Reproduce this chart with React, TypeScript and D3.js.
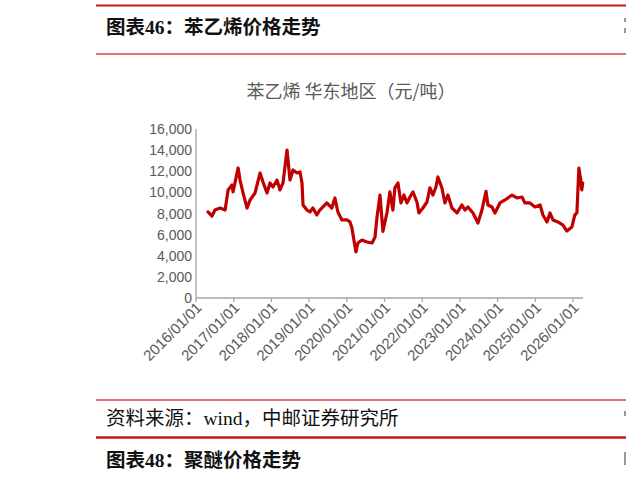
import * as d3 from "d3";

// 苯乙烯 华东地区 价格（元/吨），按图读取的近似值
const priceDates = [
  "2016-04-26", "2016-06-04", "2016-07-03", "2016-08-21", "2016-10-09", "2016-11-07",
  "2016-12-15", "2016-12-25", "2017-02-12", "2017-03-03", "2017-04-01", "2017-05-10",
  "2017-06-08", "2017-07-26", "2017-09-13", "2017-10-11", "2017-11-19", "2017-12-18",
  "2018-01-16", "2018-02-24", "2018-03-25", "2018-04-23", "2018-06-01", "2018-06-30",
  "2018-07-29", "2018-09-06", "2018-10-05", "2018-10-24", "2018-11-03", "2018-12-11",
  "2019-01-09", "2019-02-07", "2019-03-17", "2019-04-15", "2019-06-22", "2019-08-09",
  "2019-09-08", "2019-10-07", "2019-11-15", "2020-01-02", "2020-02-01", "2020-02-20",
  "2020-03-10", "2020-03-30", "2020-04-18", "2020-05-27", "2020-07-15", "2020-09-02",
  "2020-10-01", "2020-10-20", "2020-11-18", "2020-12-16", "2021-01-24", "2021-02-22",
  "2021-03-23", "2021-04-11", "2021-05-11", "2021-06-09", "2021-07-08", "2021-08-06",
  "2021-09-04", "2021-10-03", "2021-11-11", "2021-11-30", "2022-01-08", "2022-02-16",
  "2022-03-17", "2022-04-15", "2022-05-14", "2022-06-02", "2022-07-11", "2022-08-09",
  "2022-09-07", "2022-10-16", "2022-12-04", "2023-01-21", "2023-02-19", "2023-03-20",
  "2023-05-08", "2023-06-25", "2023-08-03", "2023-09-11", "2023-09-30", "2023-11-08",
  "2023-12-07", "2024-01-24", "2024-03-13", "2024-05-20", "2024-07-07", "2024-08-25",
  "2024-09-23", "2024-11-10", "2024-12-29", "2025-02-16", "2025-03-16", "2025-04-24",
  "2025-05-23", "2025-06-21", "2025-08-08", "2025-09-26", "2025-11-03", "2025-12-21",
  "2026-01-19", "2026-02-08", "2026-02-27", "2026-03-17", "2026-03-27", "2026-04-05",
];
const priceValues = [
  8150, 7760, 8330, 8520, 8330, 10230,
  10700, 10040, 12310, 11170, 9940, 8520,
  9280, 9940, 11840, 10980, 9940, 10890,
  10510, 11170, 10230, 10890, 14010, 11170,
  12120, 11840, 11930, 10890, 8810, 8330,
  8140, 8520, 7860, 8330, 9000, 8520,
  9470, 8140, 7390, 7390, 7200, 6630,
  5490, 4360, 5210, 5490, 5300, 5210,
  5780, 7670, 9750, 6300, 8050, 10040,
  8330, 10420, 10890, 9000, 9750, 9000,
  9560, 10040, 9090, 8050, 8520, 9090,
  10420, 9750, 10510, 11460, 10420, 9000,
  9750, 8520, 8050, 8810, 8330, 8620,
  8050, 7100, 8330, 10100, 8810, 8620,
  8050, 9000, 9280, 9750, 9470, 9560,
  9000, 9000, 8620, 8810, 7860, 7200,
  8050, 7390, 7200, 6910, 6340, 6720,
  7860, 8050, 12300, 11170, 10230, 10890,
];
const yTicks = [0, 2000, 4000, 6000, 8000, 10000, 12000, 14000, 16000];
const xTickYears = [2016, 2017, 2018, 2019, 2020, 2021, 2022, 2023, 2024, 2025, 2026];

const chartTitle = "苯乙烯 华东地区（元/吨）";
const headerTop = ["图表46：", "苯乙烯价格走势"];
const sourceText = "资料来源：wind，中邮证券研究所";
const headerBottom = ["图表48：", "聚醚价格走势"];

const RED = "#c9151e";
const THIN_RED = "#d9464d";
const LINE_RED = "#c00000";
const GRAY = "#595959";
const AXIS = "#a6a6a6";
const SERIF = "'Liberation Serif', 'Noto Sans CJK SC', serif";
const SANS = "'Liberation Sans', 'Noto Sans CJK SC', sans-serif";

export default function App() {
  const W = 626;
  const H = 480;
  const plot = { left: 196, right: 583, top: 129, bottom: 298 };

  const parse = d3.timeParse("%Y-%m-%d");
  const data = priceDates.map((d, i) => ({ date: parse(d)!, value: priceValues[i] }));

  const x = d3
    .scaleTime()
    .domain([new Date(2016, 0, 1), new Date(2026, 3, 8)])
    .range([plot.left, plot.right]);
  const y = d3.scaleLinear().domain([0, 16000]).range([plot.bottom, plot.top]);

  const line = d3
    .line<{ date: Date; value: number }>()
    .x((d) => x(d.date))
    .y((d) => y(d.value));

  const fmt = d3.format(",");

  return (
    <div style={{ position: "absolute", left: 0, top: 0 }}>
      <svg width={W} height={H} style={{ display: "block", background: "#fff" }}>
        {/* 上方标题栏 */}
        <line x1={96} x2={W} y1={5.5} y2={5.5} stroke={RED} strokeWidth={2.2} />
        <text x={106} y={34} fontFamily={SERIF} fontSize={19.5} fontWeight="bold" fill="#111">
          {headerTop[0] + headerTop[1]}
        </text>
        <rect x={624} y={18} width={2} height={4} fill="#999" />
        <rect x={624} y={28} width={2} height={5} fill="#999" />
        <line x1={96} x2={W} y1={54} y2={54} stroke={THIN_RED} strokeWidth={1.3} />

        {/* 图内标题 */}
        <text
          x={351}
          y={98}
          textAnchor="middle"
          fontFamily="'Noto Sans CJK SC', sans-serif"
          fontSize={18}
          fill={GRAY}
        >
          {chartTitle}
        </text>

        {/* y 轴 */}
        <line x1={plot.left} x2={plot.left} y1={plot.top} y2={plot.bottom} stroke={AXIS} strokeWidth={1.3} />
        {yTicks.map((t) => (
          <text
            key={t}
            x={plot.left - 4}
            y={y(t)}
            dy="0.36em"
            textAnchor="end"
            fontFamily={SANS}
            fontSize={14}
            fill={GRAY}
          >
            {fmt(t)}
          </text>
        ))}

        {/* x 轴 */}
        <line x1={plot.left} x2={plot.right} y1={plot.bottom} y2={plot.bottom} stroke={AXIS} strokeWidth={1.3} />
        {xTickYears.map((yr) => {
          const tx = x(new Date(yr, 0, 1));
          return (
            <g key={yr}>
              <line x1={tx} x2={tx} y1={plot.bottom} y2={plot.bottom + 4} stroke={AXIS} strokeWidth={1.3} />
              <text
                transform={`translate(${tx + 3},${plot.bottom + 7}) rotate(-45)`}
                textAnchor="end"
                dy="0.35em"
                fontFamily={SANS}
                fontSize={15}
                fill={GRAY}
              >
                {`${yr}/01/01`}
              </text>
            </g>
          );
        })}

        {/* 价格线 */}
        <path
          d={line(data) ?? ""}
          fill="none"
          stroke={LINE_RED}
          strokeWidth={3.2}
          strokeLinejoin="round"
          strokeLinecap="round"
        />

        {/* 下方来源与下一图标题 */}
        <line x1={96} x2={W} y1={400} y2={400} stroke={THIN_RED} strokeWidth={1.3} />
        <text x={106} y={425} fontFamily={SERIF} fontSize={19.5} fill="#111">
          {sourceText}
        </text>
        <rect x={624} y={411} width={2} height={5} fill="#999" />
        <line x1={96} x2={W} y1={437.5} y2={437.5} stroke={RED} strokeWidth={2.5} />
        <text x={106} y={467} fontFamily={SERIF} fontSize={19.5} fontWeight="bold" fill="#111">
          {headerBottom[0] + headerBottom[1]}
        </text>
        <rect x={624} y={452} width={2} height={13} fill="#999" />
      </svg>
    </div>
  );
}
